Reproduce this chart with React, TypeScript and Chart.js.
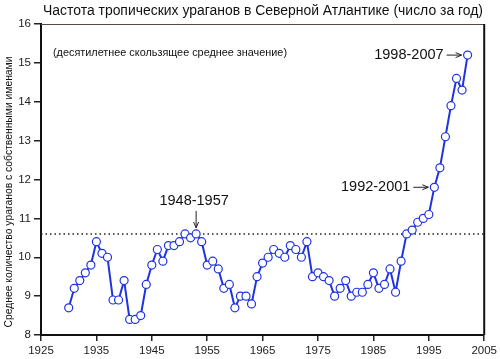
import React, { useEffect, useRef } from "react";
import { Chart, registerables } from "chart.js";

Chart.register(...registerables);

const TITLE = "Частота тропических ураганов в Северной Атлантике (число за год)";
const SUBTITLE = "(десятилетнее скользящее среднее значение)";
const Y_LABEL = "Среднее количество ураганов с собственными именами";

const YEARS = [
  1930, 1931, 1932, 1933, 1934, 1935, 1936, 1937, 1938, 1939,
  1940, 1941, 1942, 1943, 1944, 1945, 1946, 1947, 1948, 1949,
  1950, 1951, 1952, 1953, 1954, 1955, 1956, 1957, 1958, 1959,
  1960, 1961, 1962, 1963, 1964, 1965, 1966, 1967, 1968, 1969,
  1970, 1971, 1972, 1973, 1974, 1975, 1976, 1977, 1978, 1979,
  1980, 1981, 1982, 1983, 1984, 1985, 1986, 1987, 1988, 1989,
  1990, 1991, 1992, 1993, 1994, 1995, 1996, 1997, 1998, 1999,
  2000, 2001, 2002,
];

const STORMS = [
  8.7, 9.2, 9.4, 9.6, 9.8, 10.4, 10.1, 10.0, 8.9, 8.9,
  9.4, 8.4, 8.4, 8.5, 9.3, 9.8, 10.2, 9.9, 10.3, 10.3,
  10.4, 10.6, 10.5, 10.6, 10.4, 9.8, 9.9, 9.7, 9.2, 9.3,
  8.7, 9.0, 9.0, 8.8, 9.5, 9.85, 10.0, 10.2, 10.1, 10.0,
  10.3, 10.2, 10.0, 10.4, 9.5, 9.6, 9.5, 9.4, 9.0, 9.2,
  9.4, 9.0, 9.1, 9.1, 9.3, 9.6, 9.2, 9.3, 9.7, 9.1,
  9.9, 10.6, 10.7, 10.9, 11.0, 11.1, 11.8, 12.3, 13.1, 13.9,
  14.6, 14.3, 15.2,
];

const X_TICKS = [1925, 1935, 1945, 1955, 1965, 1975, 1985, 1995, 2005];
const Y_TICKS = [8, 9, 10, 11, 12, 13, 14, 15, 16];
const REFERENCE_LEVEL = 10.6;

const CALLOUT_LABELS = ["1948-1957", "1992-2001", "1998-2007"];
const CALLOUT_YEARS = [1953, 1996, 2002];
const CALLOUT_DIRS = ["down", "right", "right"];

const FONT = "'Liberation Sans', Arial, sans-serif";
const LINE_BLUE = "#1f33e0";

const decorPlugin = {
  id: "decor",
  beforeDatasetsDraw(chart: any) {
    const { ctx, chartArea, scales } = chart;
    const y = scales.y.getPixelForValue(REFERENCE_LEVEL);
    ctx.save();
    ctx.strokeStyle = "#222";
    ctx.lineWidth = 1.5;
    ctx.setLineDash([1.5, 3]);
    ctx.beginPath();
    ctx.moveTo(chartArea.left, y);
    ctx.lineTo(chartArea.right, y);
    ctx.stroke();
    ctx.restore();
  },
  afterDraw(chart: any) {
    const { ctx, chartArea, scales } = chart;
    const { left, right, top, bottom } = chartArea;
    ctx.save();
    // frame top and right
    ctx.strokeStyle = "#554a40";
    ctx.lineWidth = 1;
    ctx.beginPath();
    ctx.moveTo(left, top + 0.5);
    ctx.lineTo(right, top + 0.5);
    ctx.stroke();
    ctx.strokeStyle = "#111";
    ctx.lineWidth = 2;
    ctx.beginPath();
    ctx.moveTo(right, top);
    ctx.lineTo(right, bottom);
    ctx.stroke();

    ctx.fillStyle = "#111";
    // title
    ctx.font = `14px ${FONT}`;
    ctx.textAlign = "center";
    ctx.textBaseline = "middle";
    ctx.fillText(TITLE, 263, 11, 440);

    // subtitle
    ctx.font = `11px ${FONT}`;
    ctx.textAlign = "left";
    ctx.fillText(SUBTITLE, left + 12, 53, 234);

    // y label
    ctx.save();
    ctx.translate(9, 192);
    ctx.rotate(-Math.PI / 2);
    ctx.font = `10.5px ${FONT}`;
    ctx.textAlign = "center";
    ctx.textBaseline = "middle";
    ctx.fillText(Y_LABEL, 0, 0, 271);
    ctx.restore();

    // callouts
    ctx.strokeStyle = "#222";
    ctx.lineWidth = 1;
    CALLOUT_LABELS.forEach((label, i) => {
      const yr = CALLOUT_YEARS[i];
      const idx = YEARS.indexOf(yr);
      const px = scales.x.getPixelForValue(yr);
      const py = scales.y.getPixelForValue(STORMS[idx]);
      ctx.font = `14.5px ${FONT}`;
      ctx.textBaseline = "middle";
      if (CALLOUT_DIRS[i] === "down") {
        ctx.textAlign = "center";
        ctx.fillText(label, px - 2, py - 33, 70);
        const y0 = py - 23;
        const y1 = py - 6;
        ctx.beginPath();
        ctx.moveTo(px, y0);
        ctx.lineTo(px, y1);
        ctx.stroke();
        ctx.beginPath();
        ctx.moveTo(px - 2.5, y1 - 6);
        ctx.lineTo(px, y1);
        ctx.lineTo(px + 2.5, y1 - 6);
        ctx.stroke();
      } else {
        ctx.textAlign = "right";
        ctx.fillText(label, px - 24, py, 70);
        const x0 = px - 21;
        const x1 = px - 6;
        ctx.beginPath();
        ctx.moveTo(x0, py);
        ctx.lineTo(x1, py);
        ctx.stroke();
        ctx.beginPath();
        ctx.moveTo(x1 - 6, py - 2.5);
        ctx.lineTo(x1, py);
        ctx.lineTo(x1 - 6, py + 2.5);
        ctx.stroke();
      }
    });
    ctx.restore();
  },
};

export default function App() {
  const ref = useRef<HTMLCanvasElement | null>(null);

  useEffect(() => {
    if (!ref.current) return;
    const chart = new Chart(ref.current, {
      type: "line",
      data: {
        datasets: [
          {
            data: YEARS.map((yr, i) => ({ x: yr, y: STORMS[i] })),
            borderColor: LINE_BLUE,
            borderWidth: 2,
            pointRadius: 4,
            pointBorderWidth: 1.2,
            pointBackgroundColor: "#ffffff",
            pointBorderColor: LINE_BLUE,
            tension: 0,
          },
        ],
      },
      options: {
        responsive: false,
        animation: false,
        events: [],
        layout: { padding: { top: 24, right: 14, left: 0, bottom: 0 } },
        plugins: {
          legend: { display: false },
          tooltip: { enabled: false },
          title: { display: false },
        },
        scales: {
          x: {
            type: "linear",
            min: 1925,
            max: 2005,
            afterBuildTicks: (s: any) => {
              s.ticks = X_TICKS.map((v) => ({ value: v }));
            },
            afterFit: (s: any) => {
              s.height = 24;
            },
            ticks: {
              color: "#222",
              font: { family: FONT, size: 11.5 },
              maxRotation: 0,
              autoSkip: false,
              padding: 3,
              callback: (v: any) => String(v),
            },
            grid: {
              display: true,
              drawOnChartArea: false,
              drawTicks: true,
              tickLength: 6,
              color: "#222",
              lineWidth: 1.5,
            },
            border: { display: true, color: "#111", width: 2 },
          },
          y: {
            type: "linear",
            min: 8,
            max: 16,
            afterBuildTicks: (s: any) => {
              s.ticks = Y_TICKS.map((v) => ({ value: v }));
            },
            afterFit: (s: any) => {
              s.width = 41;
            },
            ticks: {
              color: "#222",
              font: { family: FONT, size: 11.5 },
              autoSkip: false,
              padding: 3,
              callback: (v: any) => String(v),
            },
            grid: {
              display: true,
              drawOnChartArea: false,
              drawTicks: true,
              tickLength: 7,
              color: "#222",
              lineWidth: 1.5,
            },
            border: { display: true, color: "#111", width: 2 },
          },
        },
      },
      plugins: [decorPlugin],
    } as any);
    return () => chart.destroy();
  }, []);

  return (
    <div style={{ position: "fixed", left: 0, top: 0, width: 500, height: 359, background: "#fff" }}>
      <canvas ref={ref} width={500} height={359} style={{ display: "block" }} />
    </div>
  );
}
